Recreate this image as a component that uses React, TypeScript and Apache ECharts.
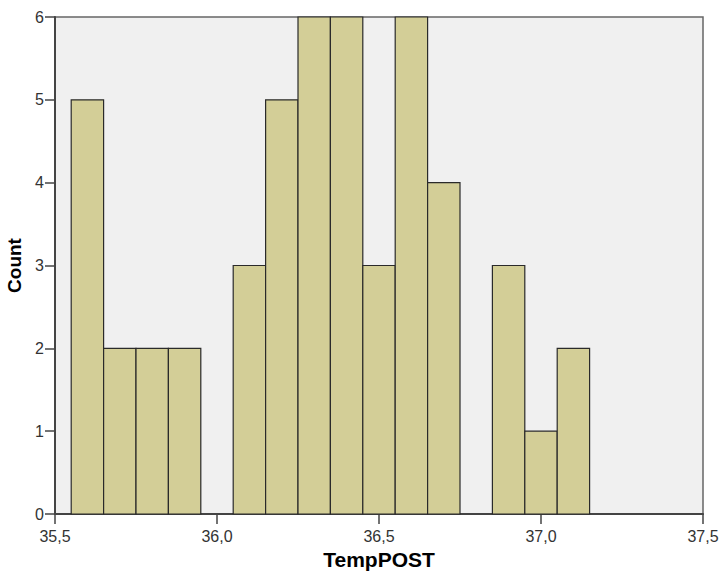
import React, { useEffect, useRef } from "react";
import * as echarts from "echarts";

const binStarts = [35.55, 35.65, 35.75, 35.85, 35.95, 36.05, 36.15, 36.25, 36.35, 36.45, 36.55, 36.65, 36.75, 36.85, 36.95, 37.05];
const counts = [5, 2, 2, 2, 0, 3, 5, 6, 6, 3, 6, 4, 0, 3, 1, 2];
const binWidth = 0.1;
const xTicks = [35.5, 36.0, 36.5, 37.0, 37.5];
const yTicks = [0, 1, 2, 3, 4, 5, 6];

export default function App() {
  const ref = useRef<HTMLDivElement>(null);
  useEffect(() => {
    document.body.style.margin = "0";
    const chart = echarts.init(ref.current!, undefined, { renderer: "svg" });
    const data = binStarts
      .map((s, i) => [s, s + binWidth, counts[i]])
      .filter((d) => d[2] > 0);
    const font = "Arial, 'Liberation Sans', sans-serif";
    chart.setOption({
      animation: false,
      grid: {
        left: 55,
        right: 17,
        top: 17,
        bottom: 59,
        outerBoundsMode: "none",
        containLabel: false,
        show: true,
        backgroundColor: "#F0F0F0",
        borderColor: "#666",
        borderWidth: 1.5,
      },
      xAxis: {
        type: "value",
        min: xTicks[0],
        max: xTicks[xTicks.length - 1],
        interval: 0.5,
        name: "TempPOST",
        nameLocation: "middle",
        nameGap: 35,
        nameTextStyle: { fontFamily: font, fontSize: 21, fontWeight: "bold", color: "#000" },
        axisLine: { show: true, lineStyle: { color: "#444", width: 2 } },
        axisTick: { show: true, length: 10, lineStyle: { color: "#444", width: 1.5 } },
        axisLabel: {
          margin: 14,
          fontFamily: font,
          fontSize: 16,
          color: "#333",
          formatter: (v: number) => v.toFixed(1).replace(".", ","),
        },
        splitLine: { show: false },
      },
      yAxis: {
        type: "value",
        min: yTicks[0],
        max: yTicks[yTicks.length - 1],
        interval: 1,
        name: "Count",
        nameLocation: "middle",
        nameGap: 25,
        nameTextStyle: { fontFamily: font, fontSize: 19, fontWeight: "bold", color: "#000" },
        axisLine: { show: true, lineStyle: { color: "#444", width: 2 } },
        axisTick: { show: true, length: 10, lineStyle: { color: "#444", width: 1.5 } },
        axisLabel: {
          margin: 11,
          fontFamily: font,
          fontSize: 16,
          color: "#333",
        },
        splitLine: { show: false },
      },
      series: [
        {
          type: "custom",
          data,
          encode: { x: [0, 1], y: 2 },
          renderItem: (params: any, api: any) => {
            const s = api.value(0);
            const e = api.value(1);
            const c = api.value(2);
            const p0 = api.coord([s, 0]);
            const p1 = api.coord([e, c]);
            return {
              type: "rect",
              shape: { x: p0[0], y: p1[1], width: p1[0] - p0[0], height: p0[1] - p1[1] },
              style: { fill: "#D3CE97", stroke: "#2a2a2a", lineWidth: 1.2 },
            };
          },
        },
      ],
    });
    return () => chart.dispose();
  }, []);
  return <div ref={ref} style={{ width: 720, height: 573, position: "absolute", left: 0, top: 0 }} />;
}
